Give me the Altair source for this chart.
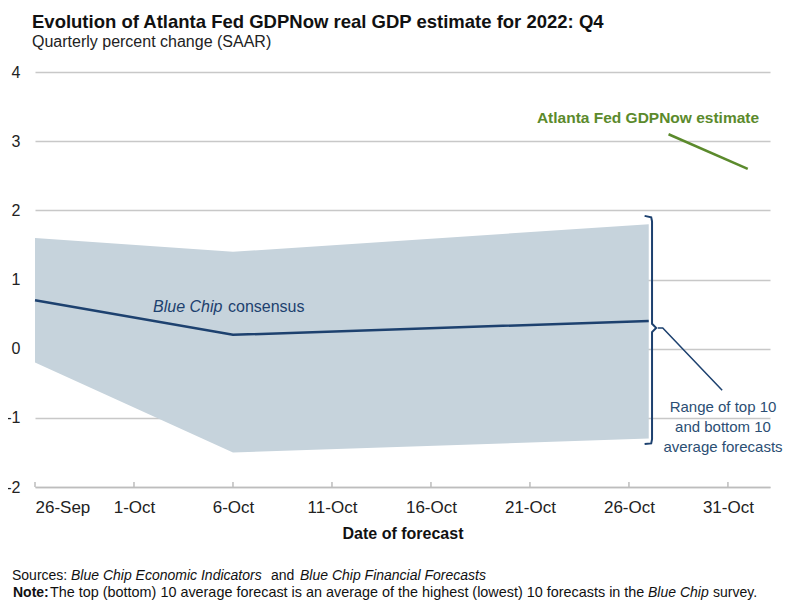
import altair as alt
import pandas as pd

# ---------------- data ----------------
band_dates = ["2022-09-26", "2022-10-06", "2022-10-27"]
band_high = [1.6, 1.4, 1.8]
band_low = [-0.2, -1.5, -1.3]
consensus = [0.7, 0.2, 0.4]

gdpnow_dates = ["2022-10-28", "2022-11-01"]
gdpnow_values = [3.1, 2.6]

x_tick_dates = ["2022-09-26", "2022-10-01", "2022-10-06", "2022-10-11",
                "2022-10-16", "2022-10-21", "2022-10-26", "2022-10-31"]
y_ticks = [-2, -1, 0, 1, 2, 3, 4]
x_domain = ["2022-09-26T00:00", "2022-11-02T03:00"]

# bracket marking the top/bottom-10 range (date, value)
bracket_dates = ["2022-10-26T19:00", "2022-10-27T03:00", "2022-10-27T04:00",
                 "2022-10-27T04:00", "2022-10-27T09:00", "2022-10-27T04:00",
                 "2022-10-27T04:00", "2022-10-27T03:00", "2022-10-26T19:00"]
bracket_values = [1.92, 1.9, 1.84, 0.36, 0.3, 0.24, -1.31, -1.37, -1.38]
leader_dates = ["2022-10-27T11:00", "2022-10-27T17:00", "2022-10-30T17:00"]
leader_values = [0.3, 0.3, -0.6]

title = "Evolution of Atlanta Fed GDPNow real GDP estimate for 2022: Q4"
subtitle = "Quarterly percent change (SAAR)"
x_title = "Date of forecast"
range_lines = ["Range of top 10", "and bottom 10", "average forecasts"]


def ms(s):
    return int(pd.Timestamp(s, tz="UTC").value // 10**6)


FONT = "Liberation Sans, Arial, sans-serif"
NAVY = "#1d416f"
BAND = "#c6d3dc"
GREEN = "#5b8a2c"
GRID = "#c8c8c8"
TXTBLUE = "#2b4e73"

band_df = pd.DataFrame({"date": [ms(d) for d in band_dates],
                        "high": band_high, "low": band_low,
                        "consensus": consensus})
gdp_df = pd.DataFrame({"date": [ms(d) for d in gdpnow_dates],
                       "value": gdpnow_values})
tick_df = pd.DataFrame({"date": [ms(d) for d in x_tick_dates]})
bracket_df = pd.DataFrame({"date": [ms(d) for d in bracket_dates],
                           "value": bracket_values,
                           "o": list(range(len(bracket_dates)))})
leader_df = pd.DataFrame({"date": [ms(d) for d in leader_dates],
                          "value": leader_values,
                          "o": list(range(len(leader_dates)))})

xscale = alt.Scale(type="utc", domain=[ms(d) for d in x_domain], nice=False)
yscale = alt.Scale(domain=[-2, 4], nice=False)

X = alt.X("date:T", scale=xscale,
          axis=alt.Axis(values=[ms(d) for d in x_tick_dates], format="%-d-%b",
                        title=x_title, grid=False, ticks=False,
                        domainColor="#bdbdbd", domainWidth=1.5,
                        labelFont=FONT, labelFontSize=17, labelColor="#222",
                        labelPadding=12, titleFont=FONT, titleFontSize=16,
                        titleFontWeight="bold", titleColor="#111",
                        titlePadding=10))
Y = alt.Y("low:Q", scale=yscale,
          axis=alt.Axis(values=y_ticks, labelExpr="toString(datum.value)",
                        title=None, domain=False,
                        ticks=False, gridColor=GRID, gridWidth=1.5,
                        labelFont=FONT, labelFontSize=16, labelColor="#222",
                        labelPadding=15))

band = alt.Chart(band_df).mark_area(color=BAND, opacity=1).encode(
    x=X, y=Y, y2="high:Q")

cons_line = alt.Chart(band_df).mark_line(color=NAVY, strokeWidth=2.5).encode(
    x=alt.X("date:T", scale=xscale),
    y=alt.Y("consensus:Q", scale=yscale))

gdp_line = alt.Chart(gdp_df).mark_line(color=GREEN, strokeWidth=2.5).encode(
    x=alt.X("date:T", scale=xscale),
    y=alt.Y("value:Q", scale=yscale))

ticks = alt.Chart(tick_df).mark_rule(color="#bdbdbd", strokeWidth=1.5).encode(
    x=alt.X("date:T", scale=xscale),
    y=alt.value(410), y2=alt.value(415))

bracket = alt.Chart(bracket_df).mark_line(color=NAVY, strokeWidth=2).encode(
    x=alt.X("date:T", scale=xscale),
    y=alt.Y("value:Q", scale=yscale), order="o:Q")

leader = alt.Chart(leader_df).mark_line(color=NAVY, strokeWidth=1.5).encode(
    x=alt.X("date:T", scale=xscale),
    y=alt.Y("value:Q", scale=yscale), order="o:Q")


def label(text, x, y, size, color="#111", weight="normal", style="normal",
          align="left", baseline="alphabetic"):
    return alt.Chart(pd.DataFrame({"t": [text]})).mark_text(
        font=FONT, fontSize=size, color=color, fontWeight=weight,
        fontStyle=style, align=align, baseline=baseline).encode(
        text="t:N", x=alt.value(x), y=alt.value(y))


texts = [
    label(title, -3, -44, 18.5, weight="bold"),
    label(subtitle, -3, -25, 16, color="#222"),
    label("Atlanta Fed GDPNow estimate", 613, 51, 15.5, color=GREEN,
          weight="bold", align="center"),
    label("Blue Chip", 118, 235, 16, color=NAVY, style="italic",
          baseline="middle"),
    label("consensus", 193, 235, 16, color=NAVY, baseline="middle"),
    label(range_lines[0], 688, 340, 15, color=TXTBLUE, align="center"),
    label(range_lines[1], 688, 360, 15, color=TXTBLUE, align="center"),
    label(range_lines[2], 688, 380, 15, color=TXTBLUE, align="center"),
    label("Sources:", -23, 508, 14, color="#111"),
    label("Blue Chip Economic Indicators", 36, 508, 14, color="#111",
          style="italic"),
    label("and", 236, 508, 14, color="#111"),
    label("Blue Chip Financial Forecasts", 265, 508, 14, color="#111",
          style="italic"),
    label("Note:", -22, 525, 14, color="#111", weight="bold"),
    label("The top (bottom) 10 average forecast is an average of the highest "
          "(lowest) 10 forecasts in the", 15, 525, 14.4, color="#111"),
    label("Blue Chip", 613, 525, 14, color="#111", style="italic"),
    label("survey.", 678, 525, 14, color="#111"),
]

chart = alt.layer(band, cons_line, gdp_line, ticks, bracket, leader,
                  *texts).properties(
    width=735, height=415,
    autosize=alt.AutoSizeParams(type="none"),
    padding={"left": 27, "top": 64, "right": 19, "bottom": 118},
).configure_view(stroke=None)

chart.save("out.html", embed_options={"renderer": "svg", "actions": False})
